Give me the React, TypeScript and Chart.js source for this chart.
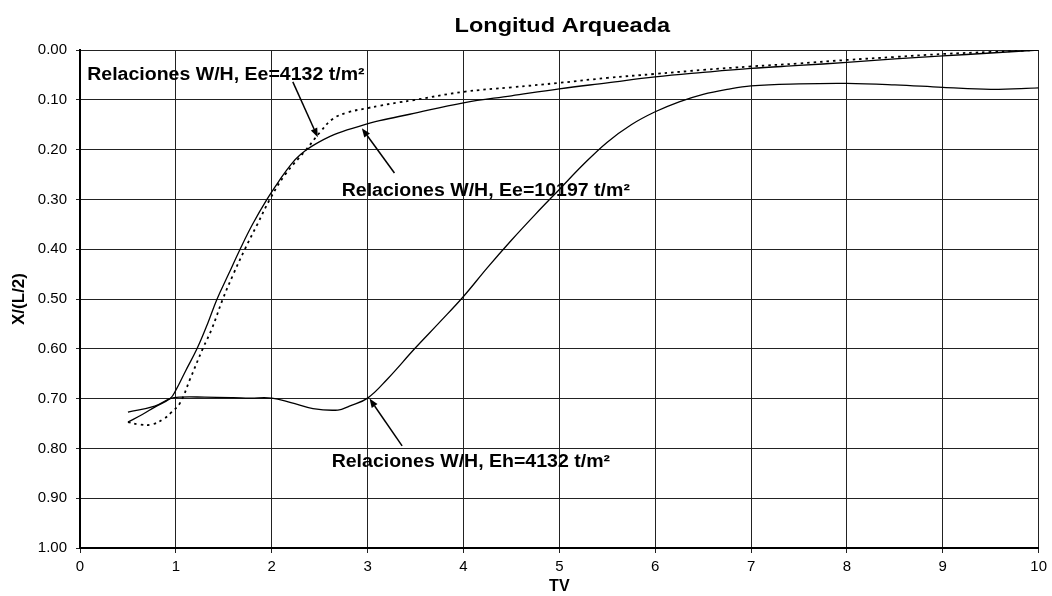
import React, { useEffect, useRef } from "react";
import { Chart, registerables } from "chart.js";

Chart.register(...registerables);

// Curve: Relaciones W/H, Ee=10197 t/m² (solid)
const TV_EE10197 = [0.5, 0.65, 0.78, 0.94, 1.0, 1.1, 1.22, 1.33, 1.43, 1.55, 1.67, 1.8, 1.95, 2.08, 2.2, 2.3, 2.42, 2.65, 2.92, 3.125, 3.44, 4.0, 4.5, 5.0, 5.5, 6.0, 6.5, 7.0, 7.5, 8.0, 8.5, 9.0, 9.5, 10.0];
const XL_EE10197 = [0.747, 0.732, 0.717, 0.70, 0.683, 0.645, 0.60, 0.55, 0.50, 0.45, 0.40, 0.35, 0.30, 0.262, 0.23, 0.21, 0.193, 0.17, 0.153, 0.142, 0.129, 0.106, 0.092, 0.078, 0.066, 0.054, 0.045, 0.037, 0.031, 0.025, 0.018, 0.012, 0.006, 0.0];

// Curve: Relaciones W/H, Ee=4132 t/m² (dotted)
const TV_EE4132 = [0.5, 0.62, 0.75, 0.88, 0.94, 1.04, 1.15, 1.28, 1.375, 1.49, 1.6, 1.72, 1.85, 1.98, 2.14, 2.36, 2.5, 2.64, 2.8, 2.99, 3.125, 3.33, 3.47, 4.0, 4.5, 5.0, 5.5, 6.0, 6.5, 7.0, 7.5, 8.0, 8.5, 9.0, 9.5, 10.0];
const XL_EE4132 = [0.747, 0.752, 0.752, 0.74, 0.73, 0.71, 0.66, 0.60, 0.56, 0.50, 0.45, 0.40, 0.35, 0.30, 0.25, 0.20, 0.166, 0.138, 0.125, 0.117, 0.112, 0.105, 0.101, 0.084, 0.075, 0.066, 0.056, 0.048, 0.04, 0.033, 0.027, 0.02, 0.014, 0.008, 0.004, 0.0];

// Curve: Relaciones W/H, Eh=4132 t/m² (solid)
const TV_EH4132 = [0.5, 0.78, 0.94, 1.04, 1.3, 1.6, 1.77, 2.0, 2.2, 2.43, 2.69, 2.81, 3.0, 3.21, 3.49, 3.75, 4.0, 4.25, 4.5, 4.75, 5.0, 5.25, 5.5, 5.75, 6.0, 6.25, 6.5, 6.75, 7.0, 7.5, 8.0, 8.5, 9.0, 9.5, 10.0];
const XL_EH4132 = [0.727, 0.715, 0.70, 0.697, 0.697, 0.698, 0.699, 0.699, 0.708, 0.72, 0.723, 0.715, 0.699, 0.66, 0.60, 0.547, 0.495, 0.437, 0.382, 0.33, 0.28, 0.23, 0.185, 0.15, 0.124, 0.104, 0.089, 0.079, 0.072, 0.068, 0.067, 0.07, 0.075, 0.079, 0.076];

const X_TICKS = [0, 1, 2, 3, 4, 5, 6, 7, 8, 9, 10];
const Y_TICKS = [0, 0.1, 0.2, 0.3, 0.4, 0.5, 0.6, 0.7, 0.8, 0.9, 1.0];

const TITLE = "Longitud Arqueada";
const X_TITLE = "TV";
const Y_TITLE = "X/(L/2)";

// Annotations: label text, label anchor (data units, baseline-left), arrow from -> to (data units)
const ANN_TEXT = ["Relaciones W/H, Ee=4132 t/m²", "Relaciones W/H, Ee=10197 t/m²", "Relaciones W/H, Eh=4132 t/m²"];
const ANN_LABEL_X = [0.075, 2.73, 2.625];
const ANN_LABEL_Y = [0.06, 0.293, 0.837];
const ANN_FROM_X = [2.22, 3.28, 3.36];
const ANN_FROM_Y = [0.064, 0.247, 0.795];
const ANN_TO_X = [2.48, 2.94, 3.02];
const ANN_TO_Y = [0.175, 0.157, 0.70];

const FONT = "'Liberation Sans', Arial, sans-serif";

const pts = (xs: number[], ys: number[]) => xs.map((x, i) => ({ x, y: ys[i] }));

const drawStretched = (ctx: any, text: string, x: number, y: number, sx: number) => {
  ctx.save();
  ctx.translate(x, y);
  ctx.scale(sx, 1);
  ctx.fillText(text, 0, 0);
  ctx.restore();
};

const overlayPlugin = {
  id: "overlay",
  afterDraw(chart: any) {
    const { ctx, chartArea, scales } = chart;
    const xs = scales.x;
    const ys = scales.y;
    ctx.save();
    // title
    ctx.fillStyle = "#000";
    ctx.font = `bold 21px ${FONT}`;
    ctx.textAlign = "center";
    ctx.textBaseline = "alphabetic";
    drawStretched(ctx, TITLE, (chartArea.left + chartArea.right) / 2 + 3, 32, 1.12);
    // annotations
    ctx.font = `bold 18px ${FONT}`;
    ctx.textAlign = "left";
    for (let i = 0; i < ANN_TEXT.length; i++) {
      const lx = xs.getPixelForValue(ANN_LABEL_X[i]);
      const ly = ys.getPixelForValue(ANN_LABEL_Y[i]);
      drawStretched(ctx, ANN_TEXT[i], lx, ly, 1.085);
      const x1 = xs.getPixelForValue(ANN_FROM_X[i]);
      const y1 = ys.getPixelForValue(ANN_FROM_Y[i]);
      const x2 = xs.getPixelForValue(ANN_TO_X[i]);
      const y2 = ys.getPixelForValue(ANN_TO_Y[i]);
      const ang = Math.atan2(y2 - y1, x2 - x1);
      const hl = 9;
      const hw = 3.5;
      const bx = x2 - hl * Math.cos(ang);
      const by = y2 - hl * Math.sin(ang);
      ctx.strokeStyle = "#000";
      ctx.lineWidth = 1.5;
      ctx.beginPath();
      ctx.moveTo(x1, y1);
      ctx.lineTo(bx, by);
      ctx.stroke();
      ctx.beginPath();
      ctx.moveTo(x2, y2);
      ctx.lineTo(bx + hw * Math.sin(ang), by - hw * Math.cos(ang));
      ctx.lineTo(bx - hw * Math.sin(ang), by + hw * Math.cos(ang));
      ctx.closePath();
      ctx.fill();
    }
    ctx.restore();
  },
};

export default function App() {
  const ref = useRef<HTMLCanvasElement | null>(null);
  useEffect(() => {
    if (!ref.current) return;
    const chart = new Chart(ref.current, {
      type: "line",
      data: {
        datasets: [
          {
            label: ANN_TEXT[2],
            data: pts(TV_EH4132, XL_EH4132),
            borderColor: "#000",
            borderWidth: 1.3,
            pointRadius: 0,
            tension: 0.4,
            fill: false,
          },
          {
            label: ANN_TEXT[1],
            data: pts(TV_EE10197, XL_EE10197),
            borderColor: "#000",
            borderWidth: 1.3,
            pointRadius: 0,
            tension: 0.4,
            fill: false,
          },
          {
            label: ANN_TEXT[0],
            data: pts(TV_EE4132, XL_EE4132),
            borderColor: "#000",
            borderWidth: 1.8,
            borderDash: [2.5, 4],
            pointRadius: 0,
            tension: 0.4,
            fill: false,
          },
        ],
      },
      options: {
        responsive: false,
        animation: false,
        layout: { padding: { top: 50, right: 12, left: 0, bottom: 0 } },
        plugins: {
          legend: { display: false },
          tooltip: { enabled: false },
          title: { display: false },
        },
        scales: {
          x: {
            type: "linear",
            min: X_TICKS[0],
            max: X_TICKS[X_TICKS.length - 1],
            afterFit: (s: any) => {
              s.height = 48;
            },
            afterBuildTicks: (s: any) => {
              s.ticks = X_TICKS.map((v) => ({ value: v }));
            },
            ticks: {
              color: "#000",
              font: { family: FONT, size: 15 },
              padding: 5,
              callback: (v: any) => String(v),
            },
            grid: { color: "#222", lineWidth: 1, tickLength: 5 },
            border: { color: "#000", width: 2 },
            title: {
              display: true,
              text: X_TITLE,
              color: "#000",
              font: { family: FONT, size: 16, weight: "bold" },
              padding: { top: 0, bottom: 0 },
            },
          },
          y: {
            type: "linear",
            reverse: true,
            min: Y_TICKS[0],
            max: Y_TICKS[Y_TICKS.length - 1],
            afterFit: (s: any) => {
              s.width = 80;
            },
            afterBuildTicks: (s: any) => {
              s.ticks = Y_TICKS.map((v) => ({ value: v }));
            },
            ticks: {
              color: "#000",
              font: { family: FONT, size: 15 },
              padding: 9,
              callback: (v: any) => Number(v).toFixed(2),
            },
            grid: { color: "#222", lineWidth: 1, tickLength: 4 },
            border: { color: "#000", width: 2 },
            title: {
              display: true,
              text: Y_TITLE,
              color: "#000",
              font: { family: FONT, size: 17, weight: "bold" },
              padding: { top: 9, bottom: 0 },
            },
          },
        },
      } as any,
      plugins: [overlayPlugin],
    });
    return () => chart.destroy();
  }, []);
  return (
    <div style={{ position: "absolute", left: 0, top: 0, width: 1052, height: 596, background: "#fff" }}>
      <canvas ref={ref} width={1052} height={596} style={{ display: "block", width: 1052, height: 596 }} />
    </div>
  );
}
